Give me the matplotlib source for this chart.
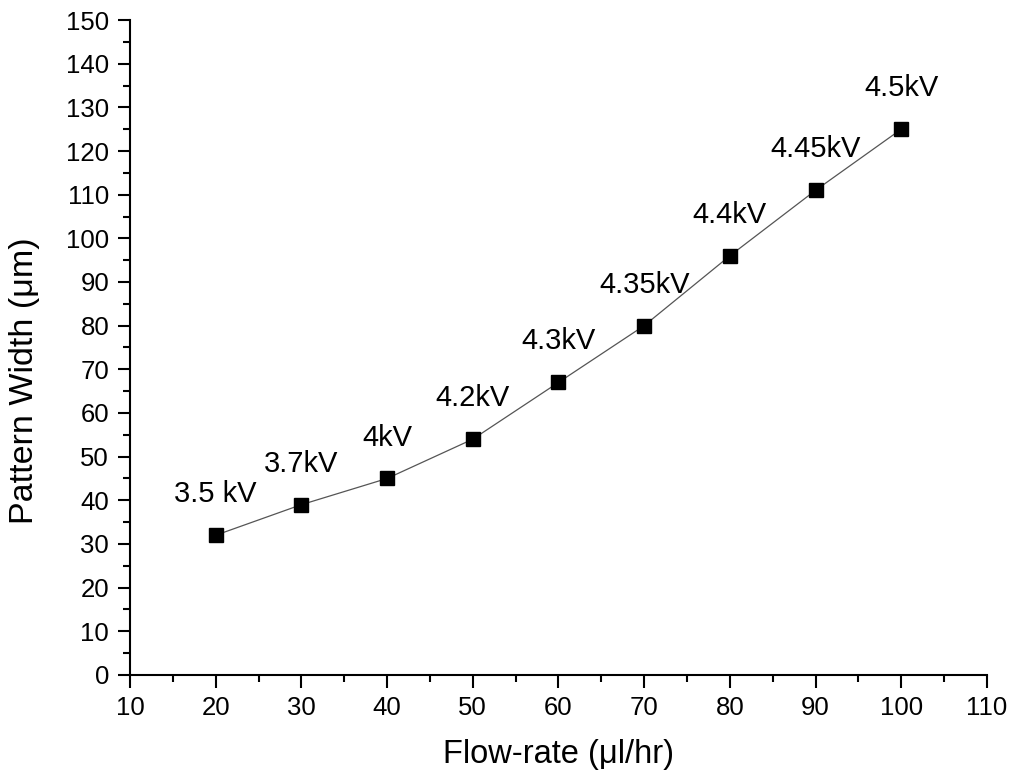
import numpy as np
import matplotlib.pyplot as plt
from matplotlib.ticker import MultipleLocator

plt.rcParams['font.family'] = ['Liberation Sans', 'DejaVu Sans']

# flow rate vs printed line width, labelled with applied voltage
flow = [20, 30, 40, 50, 60, 70, 80, 90, 100]
width = [32, 39, 45, 54, 67, 80, 96, 111, 125]
volts = ['3.5 kV', '3.7kV', '4kV', '4.2kV', '4.3kV', '4.35kV', '4.4kV', '4.45kV', '4.5kV']

fig = plt.figure(figsize=(10.13, 7.76), dpi=100)
ax = fig.add_axes([0.1283, 0.1302, 0.846, 0.844])

ax.plot(flow, width, color='#555555', lw=0.9, zorder=2)
ax.plot(flow, width, ls='none', marker='s', ms=10, color='black', zorder=3)

for x, y, t in zip(flow, width, volts):
    ax.annotate(t, (x, y), xytext=(0, 29.5), textcoords='offset points',
                ha='center', va='center', fontsize=21)

ax.set_xlim(10, 110)
ax.set_ylim(0, 150)
ax.xaxis.set_major_locator(MultipleLocator(10))
ax.xaxis.set_minor_locator(MultipleLocator(5))
ax.yaxis.set_major_locator(MultipleLocator(10))
ax.yaxis.set_minor_locator(MultipleLocator(5))

for s in ['top', 'right']:
    ax.spines[s].set_visible(False)
for s in ['left', 'bottom']:
    ax.spines[s].set_linewidth(1.5)

ax.tick_params(which='major', direction='out', length=9, width=1.5, labelsize=18.5, pad=6)
ax.tick_params(which='minor', direction='out', length=5, width=1.5)

ax.set_xlabel('Flow-rate (\u03bcl/hr)', fontsize=23.5, va='center')
ax.set_ylabel('Pattern Width (\u03bcm)', fontsize=24.5, va='center')
ax.xaxis.set_label_coords(0.5, -0.122)
ax.yaxis.set_label_coords(-0.1225, 0.449)

fig.savefig('out.png', dpi=100)
